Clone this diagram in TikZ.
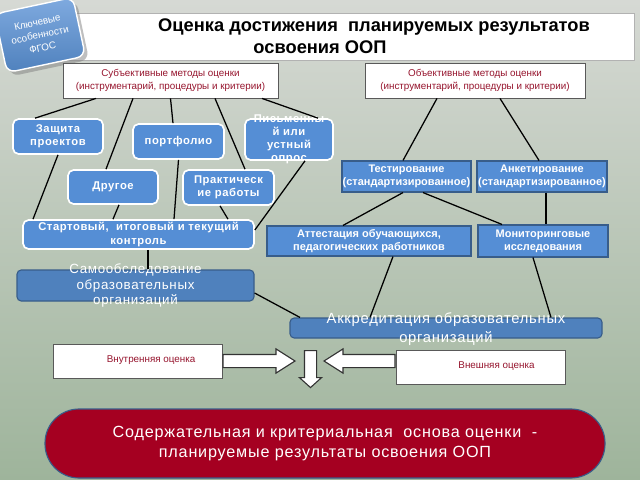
\documentclass[tikz,border=0pt]{standalone}
\usepackage{fontspec}
\setmainfont{Liberation Sans}
\newfontfamily\boxfont[LetterSpace=5]{Liberation Sans}
\usetikzlibrary{shapes,arrows,positioning,calc,shadows}
\definecolor{boxblue}{RGB}{85,142,213}
\definecolor{darkblue}{RGB}{56,93,138}
\definecolor{samoblue}{RGB}{79,129,189}
\definecolor{textred}{RGB}{150,20,45}
\definecolor{osnred}{RGB}{165,0,33}
\definecolor{bgtop}{RGB}{214,217,212}
\definecolor{bgbot}{RGB}{158,180,155}
\newcommand{\px}{0.025cm}

\begin{document}
\begin{tikzpicture}[
    x=0.025cm, y=-0.025cm,
    wh/.style 2 args={minimum width=#1*\px, minimum height=#2*\px},
    rbox/.style={draw=white, line width=1.2pt, rounded corners=4pt, fill=boxblue, text=white,
        font=\boxfont\bfseries\fontsize{8}{9.3}\selectfont, align=center, inner sep=0pt},
    sbox/.style={draw=darkblue, line width=0.8pt, fill=boxblue, text=white,
        font=\bfseries\fontsize{7.8}{9}\selectfont, align=center, inner sep=0pt},
    wbox/.style={draw=gray!70!black, line width=0.6pt, fill=white, text=textred,
        font=\fontsize{7}{9}\selectfont, align=center, inner sep=0pt},
    dbox/.style={draw=darkblue, line width=0.8pt, rounded corners=3pt, fill=samoblue, inner sep=0pt},
    overtext/.style={text=white, font=\boxfont\fontsize{9.5}{10.8}\selectfont, align=center},
    link/.style={line width=0.9pt, black},
    blockarrow/.style={single arrow, draw=black!80, line width=0.8pt, fill=white,
        inner xsep=0pt, inner ysep=6*\px, single arrow head extend=5.5*\px, single arrow tip angle=65}
]
    % background
    \shade[top color=bgtop, bottom color=bgbot] (0,0) rectangle (640,480);
    \useasboundingbox (0,0) rectangle (640,480);

    % title
    \node[draw=gray!60, line width=0.6pt, fill=white, wh={576}{47}] (titlebar) at (346,36.5) {};
    \node[font=\bfseries\fontsize{13}{15}\selectfont] (title1) at (374,27)
        {Оценка достижения \ планируемых результатов};
    \node[font=\bfseries\fontsize{13}{15}\selectfont] (title2) at (320,47) {освоения ООП};

    % badge
    \node[rotate=12, draw=white, line width=1pt, rounded corners=6pt, top color=boxblue!75, bottom color=samoblue,
        drop shadow, wh={80}{60}, text=white, align=center, font=\fontsize{7}{9.2}\selectfont] (fgos) at (40,35)
        {Ключевые\\особенности\\ФГОС};

    % methods
    \node[wbox, wh={215}{35}] (subj) at (170.5,80.5)
        {Субъективные методы оценки\\(инструментарий, процедуры и критерии)};
    \node[wbox, wh={220}{35}] (obj) at (475,80.5)
        {Объективные методы оценки\\(инструментарий, процедуры и критерии)};

    % subjective branch
    \node[rbox, wh={90}{35}] (zashch) at (58,136.5) {Защита\\проектов};
    \node[rbox, wh={91}{35}] (portf) at (178.5,141.5) {портфолио};
    \node[rbox, wh={88}{41}] (opros) at (289,139.5) {};
    \node[text=white, font=\boxfont\bfseries\fontsize{8}{9.3}\selectfont, align=center] (oprostext) at (opros)
        {Письменны\\й или\\устный\\опрос};
    \node[rbox, wh={90}{34}] (drugoe) at (113,187) {Другое};
    \node[rbox, wh={91}{35}] (prakt) at (228.5,187.5) {Практическ\\ие работы};
    \node[rbox, wh={231}{29}] (start) at (138.5,234.5) {Стартовый, \ итоговый и текущий\\контроль};
    \node[dbox, wh={237}{31}] (samo) at (135.5,285.5) {};
    \node[overtext] (samotext) at (samo) {Самообследование\\образовательных\\организаций};

    % objective branch
    \node[sbox, wh={129}{31}] (test) at (406.5,176.5) {Тестирование\\(стандартизированное)};
    \node[sbox, wh={130}{31}] (anket) at (542,176.5) {Анкетирование\\(стандартизированное)};
    \node[sbox, wh={204}{30}] (attest) at (369,241) {Аттестация обучающихся,\\педагогических работников};
    \node[sbox, wh={130}{32}] (monit) at (543,241) {Мониторинговые\\исследования};
    \node[dbox, wh={312}{20}] (akkred) at (446,328) {};
    \node[overtext, font=\boxfont\fontsize{10.5}{13.5}\selectfont] (akkredtext) at (446,329)
        {Аккредитация образовательных\\организаций};

    % connectors
    \draw[link] ([xshift=-74.5*\px]subj.south) -- ([xshift=-23*\px]zashch.north);
    \draw[link] ([xshift=-37.5*\px]subj.south) -- ([xshift=-7*\px]drugoe.north);
    \draw[link] (subj.south) -- ([xshift=-5.5*\px]portf.north);
    \draw[link] ([xshift=44.5*\px]subj.south) -- ([xshift=16.5*\px]prakt.north);
    \draw[link] ([xshift=91.5*\px]subj.south) -- ([xshift=29*\px]opros.north);
    \draw[link] (zashch.south) -- ([xshift=-105.5*\px]start.north);
    \draw[link] ([xshift=6*\px]drugoe.south) -- ([xshift=-25.5*\px]start.north);
    \draw[link] (portf.south) -- ([xshift=35.5*\px]start.north);
    \draw[link] ([xshift=-8.5*\px]prakt.south) -- ([xshift=89.5*\px]start.north);
    \draw[link] ([xshift=16*\px]opros.south) -- ([yshift=4.5*\px]start.east);
    \draw[link] ([xshift=9.5*\px]start.south) -- ([xshift=12.5*\px]samo.north);
    \draw[link] ([yshift=-7.5*\px]samo.east) -- ([xshift=-146*\px]akkred.north);
    \draw[link] ([xshift=-38*\px]obj.south) -- ([xshift=-3.5*\px]test.north);
    \draw[link] ([xshift=25*\px]obj.south) -- ([xshift=-3*\px]anket.north);
    \draw[link] ([xshift=-3.5*\px]test.south) -- ([xshift=-26*\px]attest.north);
    \draw[link] ([xshift=16.5*\px]test.south) -- ([xshift=-41*\px]monit.north);
    \draw[link] ([xshift=4*\px]anket.south) -- ([xshift=3*\px]monit.north);
    \draw[link] ([xshift=24*\px]attest.south) -- ([xshift=-76*\px]akkred.north);
    \draw[link] ([xshift=-10*\px]monit.south) -- ([xshift=105*\px]akkred.north);

    % internal / external
    \node[wbox, wh={169}{34}] (vnutr) at (137.5,361) {\hspace*{0.68cm}\raisebox{0.08cm}{Внутренняя оценка}};
    \node[wbox, wh={169}{34}] (vneshn) at (480.5,367) {\hspace*{0.8cm}\raisebox{0.08cm}{Внешняя оценка}};
    \node[blockarrow, anchor=tail, minimum height=72*\px] (inarrow) at (vnutr.east) {};
    \node[blockarrow, anchor=tail, minimum height=71*\px, shape border rotate=180] (exarrow)
        at ([yshift=6*\px]vneshn.west) {};
    \node[blockarrow, anchor=tail, minimum height=37*\px, inner xsep=5.5*\px, inner ysep=0pt,
        single arrow head extend=5*\px, single arrow tip angle=96, shape border rotate=270] (downarrow)
        at (310.5,350) {};

    % basis
    \node[draw=darkblue, line width=0.8pt, fill=osnred, rounded corners=0.85cm, wh={560}{69}, text=white,
        align=center, font=\boxfont\fontsize{11.5}{14}\selectfont] (osnova) at (325,443.5)
        {Содержательная и критериальная \ основа оценки \ -\\планируемые результаты освоения ООП};
\end{tikzpicture}
\end{document}
